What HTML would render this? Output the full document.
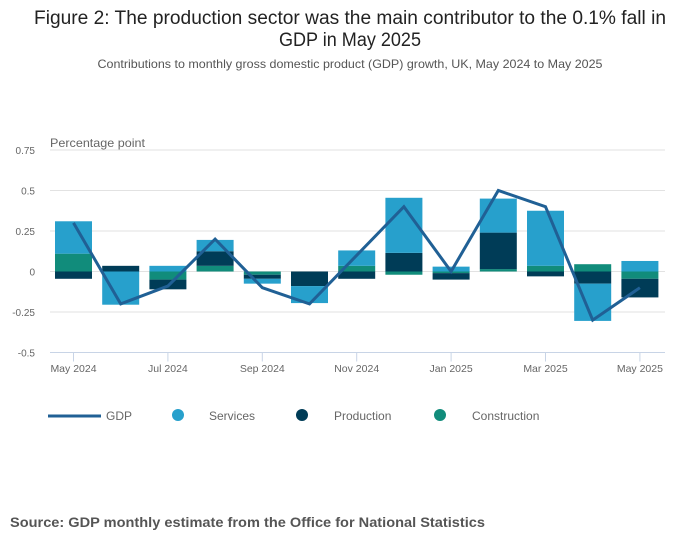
<!DOCTYPE html>
<html><head><meta charset="utf-8"><style>
body{margin:0;background:#fff;}
svg{display:block;font-family:"Liberation Sans",sans-serif;}
</style></head><body>
<svg id="chart" width="700" height="549" viewBox="0 0 700 549">
<text x="350" y="24" text-anchor="middle" font-size="19" fill="#222" textLength="632" lengthAdjust="spacingAndGlyphs">Figure 2: The production sector was the main contributor to the 0.1% fall in</text>
<text x="350" y="46" text-anchor="middle" font-size="19" fill="#222" textLength="142" lengthAdjust="spacingAndGlyphs">GDP in May 2025</text>
<text x="350" y="68" text-anchor="middle" font-size="12" fill="#555" textLength="505" lengthAdjust="spacingAndGlyphs">Contributions to monthly gross domestic product (GDP) growth, UK, May 2024 to May 2025</text>
<text x="50" y="147" font-size="12" fill="#666" textLength="95" lengthAdjust="spacingAndGlyphs">Percentage point</text>
<g id="grid"></g><g id="bars"></g><g id="line"></g><g id="xaxis"></g>
<g>
<line x1="48" y1="416" x2="101" y2="416" stroke="#206095" stroke-width="3"/>
<text x="106" y="420" font-size="12" fill="#666">GDP</text>
<circle cx="178" cy="415" r="6" fill="#27a0cc"/>
<text x="209" y="420" font-size="12" fill="#666">Services</text>
<circle cx="302" cy="415" r="6" fill="#003c57"/>
<text x="334" y="420" font-size="12" fill="#666">Production</text>
<circle cx="440" cy="415" r="6" fill="#118c7b"/>
<text x="472" y="420" font-size="12" fill="#666">Construction</text>
</g>
<text x="10" y="527" font-size="13.5" font-weight="bold" fill="#555" textLength="475" lengthAdjust="spacingAndGlyphs">Source: GDP monthly estimate from the Office for National Statistics</text>
</svg>
<script>
const categories=["May 2024","Jun 2024","Jul 2024","Aug 2024","Sep 2024","Oct 2024","Nov 2024","Dec 2024","Jan 2025","Feb 2025","Mar 2025","Apr 2025","May 2025"];
const services=[0.20,-0.205,0.035,0.07,-0.03,-0.105,0.095,0.34,0.03,0.21,0.34,-0.23,0.065];
const production=[-0.045,0.035,-0.06,0.09,-0.025,-0.09,-0.045,0.115,-0.04,0.225,-0.03,-0.075,-0.115];
const construction=[0.11,0.0,-0.05,0.035,-0.02,0.0,0.035,-0.02,-0.01,0.015,0.035,0.045,-0.045];
const gdp=[0.3,-0.2,-0.09,0.2,-0.1,-0.2,0.1,0.4,0.0,0.5,0.4,-0.3,-0.1];
const yTicks=[0.75,0.5,0.25,0,-0.25,-0.5];
const yTickLabels=["0.75","0.5","0.25","0","-0.25","-0.5"];
const xTickIdx=[0,2,4,6,8,10,12];
const NS="http://www.w3.org/2000/svg";
const y=v=>271.5-v*162;
const x=i=>73.5+i*47.2;
function mk(tag,attrs,parent){const e=document.createElementNS(NS,tag);for(const k in attrs)e.setAttribute(k,attrs[k]);document.getElementById(parent).appendChild(e);return e;}
yTicks.forEach((t,i)=>{
 if(t!==-0.5){const l=mk('line',{x1:50,x2:665,y1:y(t),y2:y(t),stroke:'#e2e2e2','stroke-width':1},'grid');
 
 }
 const tx=mk('text',{x:35,y:y(t)+4,'text-anchor':'end','font-size':10,fill:'#666'},'grid');tx.textContent=yTickLabels[i];
 
 
});
const ax=mk('line',{x1:50,x2:665,y1:y(-0.5),y2:y(-0.5),stroke:'#c8d4e6','stroke-width':1},'xaxis');


xTickIdx.forEach(i=>{
 const t=mk('line',{x1:x(i),x2:x(i),y1:y(-0.5),y2:y(-0.5)+9,stroke:'#c8d4e6'},'xaxis');
 
 
 const l=mk('text',{x:x(i),y:372,'text-anchor':'middle','font-size':10.5,fill:'#666'},'xaxis');l.textContent=categories[i];
 
 
});
const series=[["construction",construction,"#118c7b"],["production",production,"#003c57"],["services",services,"#27a0cc"]];
categories.forEach((c,i)=>{
 let pos=0,neg=0;
 series.forEach(([name,arr,col])=>{
  const v=arr[i];if(!v)return;
  let a,b;if(v>0){a=pos;b=pos+v;pos=b;}else{a=neg;b=neg+v;neg=b;}
  const r=mk('rect',{x:x(i)-18.5,width:37,y:Math.min(y(a),y(b)),height:Math.abs(y(a)-y(b)),fill:col},'bars');
  
  
 });
});
const p=mk('polyline',{points:gdp.map((v,i)=>x(i)+','+y(v)).join(' '),fill:'none',stroke:'#206095','stroke-width':3,'stroke-linejoin':'miter'},'line');


</script>
</body></html>
